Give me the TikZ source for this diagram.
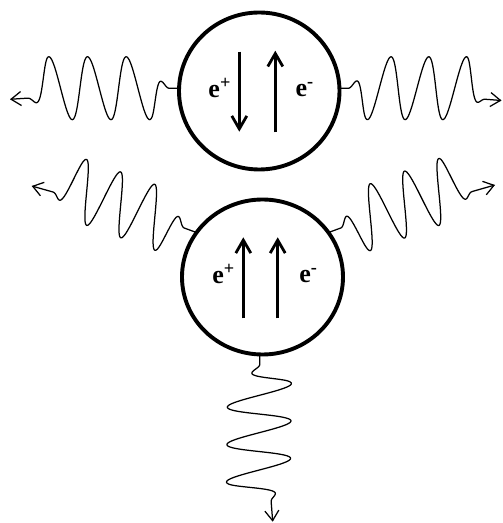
\documentclass[tikz,border=0pt]{standalone}
\usepackage{fontspec}
\setmainfont{Liberation Serif}
\usetikzlibrary{arrows.meta,decorations,shapes.geometric}

\pgfkeys{/photon/.cd,
  A/.initial=30, lam/.initial=38, s0/.initial=30,
  ina/.initial=6, inb/.initial=26, outa/.initial=128, outb/.initial=150,
  k/.initial=0}

% wavy photon line: sine across the path with smooth ramps at both ends
\pgfdeclaredecoration{photonwave}{initial}{
  \state{initial}[width=0.5pt, next state=initial]{
    \pgfmathsetmacro\phS{\pgfdecoratedcompleteddistance}
    \pgfmathsetmacro\phU{min(max((\phS-\pgfkeysvalueof{/photon/ina})/(\pgfkeysvalueof{/photon/inb}-\pgfkeysvalueof{/photon/ina}),0),1)}
    \pgfmathsetmacro\phEi{\phU*\phU*(3-2*\phU)}
    \pgfmathsetmacro\phV{min(max((\phS-\pgfkeysvalueof{/photon/outa})/(\pgfkeysvalueof{/photon/outb}-\pgfkeysvalueof{/photon/outa}),0),1)}
    \pgfmathsetmacro\phEo{1-\phV*\phV*(3-2*\phV)}
    \pgfmathsetmacro\phP{(\phS-\pgfkeysvalueof{/photon/s0})/\pgfkeysvalueof{/photon/lam}*360}
    \pgfmathsetmacro\phT{\pgfkeysvalueof{/photon/A}*\phEi*\phEo*cos(\phP)+\pgfkeysvalueof{/photon/k}*\phS*\phEo}
    \pgfpathlineto{\pgfpoint{0pt}{\phT pt}}
  }
  \state{final}{\pgfpathlineto{\pgfpointdecoratedpathlast}}
}

\tikzset{
  ball/.style={draw, ellipse, line width=3.9pt, outer sep=0pt, inner sep=0pt},
  spin/.style={line width=2.8pt, -{Straight Barb[length=13pt,width=15pt]}},
  lbl/.style={anchor=base, inner sep=0pt, font=\fontsize{26}{30}\selectfont\bfseries},
  photon/.style n args={8}{decorate, decoration=photonwave,
    /photon/A=#1, /photon/lam=#2, /photon/s0=#3, /photon/ina=#4,
    /photon/inb=#5, /photon/outa=#6, /photon/outb=#7, /photon/k=#8,
    line width=1.25pt, -{Straight Barb[length=10pt,width=14pt]}}
}

\begin{document}
\begin{tikzpicture}[x=1pt,y=1pt]
\useasboundingbox (0,0) rectangle (503,523);

% circles
\node[ball, minimum width=160.5pt, minimum height=157pt] (top) at (259.25,432) {};
\node[ball, minimum width=161pt, minimum height=155pt] (bot) at (262.5,246) {};

% spin arrows
\coordinate (t1a) at (239.3,471.3); \coordinate (t1b) at (239.3,391.3);
\coordinate (t2a) at (275.3,390.7); \coordinate (t2b) at (275.3,472.3);
\coordinate (b1a) at (243.3,204.7); \coordinate (b1b) at (243.3,285.7);
\coordinate (b2a) at (277.7,204.7); \coordinate (b2b) at (277.7,285.7);
\draw[spin] (t1a) -- (t1b);
\draw[spin] (t2a) -- (t2b);
\draw[spin] (b1a) -- (b1b);
\draw[spin] (b2a) -- (b2b);

% labels
\node[lbl] (tep) at (219.7,425.7) {e\textsuperscript{+}};
\node[lbl] (tem) at (304.7,426) {e\textsuperscript{-}};
\node[lbl] (bep) at (223.5,239.7) {e\textsuperscript{+}};
\node[lbl] (bem) at (308.3,240) {e\textsuperscript{-}};

% photon ends
\coordinate (tl) at (10,423.7);
\coordinate (tr) at (501.5,422.5);
\coordinate (bl) at (31.7,337);
\coordinate (br) at (495,338);
\coordinate (bt) at (272.7,1.3);

% photons
\draw[photon={31.5}{38.6}{31.4}{10}{29}{129}{152}{-0.0655}] (top.178) -- (tl);
\draw[photon={-31.5}{37.6}{30.3}{9}{28}{125}{146}{0.0757}] (top.2) -- (tr);
\draw[photon={31}{36.2}{35.3}{13}{33}{128}{150}{-0.075}] (bot.146) -- (bl);
\draw[photon={-31.5}{36.4}{35.4}{13}{33}{128}{150}{0.074}] (bot.34) -- (br);
\draw[photon={32}{37.3}{31.4}{10}{29}{127}{148}{-0.088}] (bot.268) -- (bt);
\end{tikzpicture}
\end{document}
